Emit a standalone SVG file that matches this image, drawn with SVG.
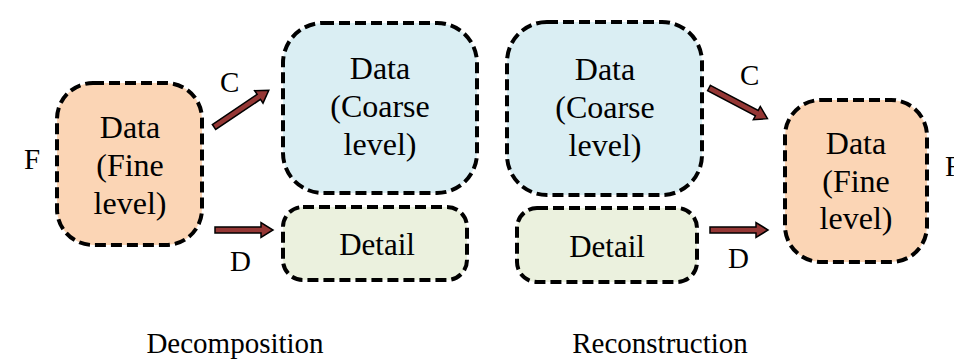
<svg xmlns="http://www.w3.org/2000/svg" width="954" height="359" viewBox="0 0 954 359">
  <style>
    .box { stroke: #000; stroke-width: 4; stroke-dasharray: 11 5; }
    .fine { fill: #FBD5B5; }
    .coarse { fill: #DAEEF3; }
    .detail { fill: #EBF1DE; }
    text { font-family: "Liberation Serif", "Times New Roman", serif; font-size: 29px; fill: #000; }
    .n { text-anchor: middle; font-size: 32px; }
    .d { text-anchor: middle; font-size: 31px; }
    .c { text-anchor: middle; }
    .arrow { fill: #953735; stroke: #000; stroke-width: 1.5; stroke-linejoin: miter; }
  </style>
  <defs>
    <polygon id="arr66" points="0,-3 54,-3 54,-7.5 66,0 54,7.5 54,3 0,3"/>
    <polygon id="arr58" points="0,-3 46,-3 46,-7.5 58,0 46,7.5 46,3 0,3"/>
  </defs>

  <rect width="954" height="359" fill="#fff"/>

  <!-- Decomposition side -->
  <g id="fine-in">
    <rect class="box fine" x="57" y="83" width="145" height="162" rx="36"/>
    <text class="n" x="130" y="138">Data</text>
    <text class="n" x="130" y="176">(Fine</text>
    <text class="n" x="130" y="214">level)</text>
  </g>
  <g id="coarse-out">
    <rect class="box coarse" x="283" y="23" width="194" height="170" rx="40"/>
    <text class="n" x="380" y="79">Data</text>
    <text class="n" x="380" y="117">(Coarse</text>
    <text class="n" x="380" y="155">level)</text>
  </g>
  <g id="detail-out">
    <rect class="box detail" x="283" y="207" width="184" height="73" rx="20"/>
    <text class="d" x="377" y="255">Detail</text>
  </g>

  <!-- Reconstruction side -->
  <g id="coarse-in">
    <rect class="box coarse" x="507" y="22" width="195" height="173" rx="40"/>
    <text class="n" x="605" y="80">Data</text>
    <text class="n" x="605" y="118">(Coarse</text>
    <text class="n" x="605" y="156">level)</text>
  </g>
  <g id="detail-in">
    <rect class="box detail" x="517" y="208" width="180" height="74" rx="20"/>
    <text class="d" x="607" y="257">Detail</text>
  </g>
  <g id="fine-out">
    <rect class="box fine" x="785" y="100" width="142" height="162" rx="36"/>
    <text class="n" x="856" y="154">Data</text>
    <text class="n" x="856" y="192">(Fine</text>
    <text class="n" x="856" y="229">level)</text>
  </g>

  <!-- Connectors -->
  <g id="connectors">
    <use href="#arr66" class="arrow" transform="translate(214,127) rotate(-33.9)"/>
    <use href="#arr58" class="arrow" transform="translate(215,230)"/>
    <use href="#arr66" class="arrow" transform="translate(709,88) rotate(27.7)"/>
    <use href="#arr58" class="arrow" transform="translate(710,230)"/>
  </g>

  <!-- Labels -->
  <text x="24" y="169">F</text>
  <text x="220" y="92">C</text>
  <text x="230" y="271">D</text>
  <text x="740" y="85">C</text>
  <text x="728" y="268">D</text>
  <text x="945" y="176">F</text>
  <text class="c" x="235" y="353">Decomposition</text>
  <text class="c" x="660" y="353">Reconstruction</text>
</svg>
